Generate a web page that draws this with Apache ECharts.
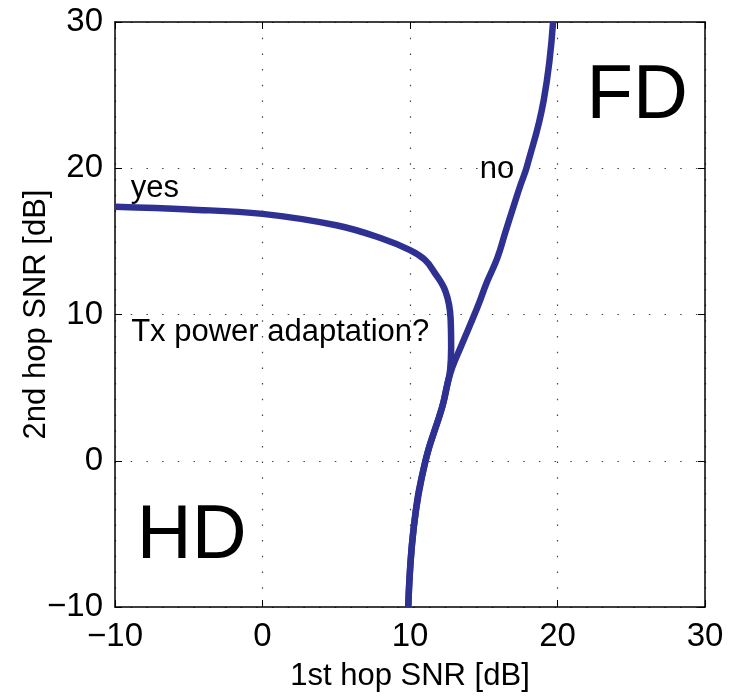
<!DOCTYPE html>
<html>
<head>
<meta charset="utf-8">
<script src="https://cdn.jsdelivr.net/npm/echarts@6/dist/echarts.min.js"></script>
<style>
  html, body { margin: 0; padding: 0; background: #fff; }
  #main { width: 745px; height: 697px; }
</style>
</head>
<body>
<div id="main"></div>
<script>
// curve: [1st hop SNR, 2nd hop SNR]
const yesCurve = [
  [-10, 17.36], [-5, 17.18], [0, 16.88], [5, 16.1], [8, 15.23], [10, 14.4],
  [11, 13.75], [11.62, 12.93], [12.41, 11.57], [12.75, 9.76], [12.79, 7.73],
  [12.72, 6.2], [12.55, 5.3], [12.18, 3.66], [11.05, 0], [10.26, -4.5], [9.88, -10]
];
const noCurve = [
  [19.7, 30], [19.07, 24.68], [17.94, 20.16], [17.49, 18.85], [17.04, 17.45],
  [16.47, 15.64], [15.91, 13.83], [15.23, 12.25], [14.55, 10.44], [13.42, 7.73],
  [12.86, 6.37], [12.55, 5.3], [12.18, 3.66], [11.05, 0], [10.26, -4.5], [9.88, -10]
];
const bigLabels = [
  { name: "FD", value: [25.4, 24.9] },
  { name: "HD", value: [-4.8, -5.2] }
];
const smallLabels = [
  { name: "yes", value: [-7.3, 18.6] },
  { name: "no", value: [15.9, 19.95] },
  { name: "Tx power adaptation?", value: [1.2, 8.75] }
];
const xTicks = [-10, 0, 10, 20, 30];
const yTicks = [-10, 0, 10, 20, 30];

const myChart = echarts.init(document.getElementById("main"));
const font = "Liberation Sans, Arial, Helvetica, sans-serif";
const curveColor = "#2e3192";
const minus = (v) => String(v).replace("-", "\u2212");

const baseAxis = {
  type: "value",
  interval: 10,
  axisLine: { show: true, onZero: false, lineStyle: { color: "#000", width: 1.5 } },
  axisTick: { show: true, inside: true, length: 7, lineStyle: { color: "#000", width: 1 } },
  splitLine: { show: false },
  axisLabel: { show: false }
};

let options = {
  animation: false,
  grid: { left: 115, right: 40, top: 22, bottom: 85 },
  xAxis: [
    {
      ...baseAxis,
      min: xTicks[0],
      max: xTicks[xTicks.length - 1],
      position: "bottom",
      name: "1st hop SNR [dB]",
      nameLocation: "middle",
      nameGap: 54,
      nameMoveOverlap: false,
      nameTextStyle: { fontFamily: font, fontSize: 31, color: "#000" },
      axisLabel: { show: true, margin: 13, fontFamily: font, fontSize: 33, color: "#000", formatter: minus },
      splitLine: { show: true, lineStyle: { color: "#444", width: 1.2, type: [1.5, 14.2] } }
    },
    { ...baseAxis, min: xTicks[0], max: xTicks[xTicks.length - 1], position: "top" }
  ],
  yAxis: [
    {
      ...baseAxis,
      min: yTicks[0],
      max: yTicks[yTicks.length - 1],
      position: "left",
      name: "2nd hop SNR [dB]",
      nameLocation: "middle",
      nameGap: 63,
      nameMoveOverlap: false,
      nameTextStyle: { fontFamily: font, fontSize: 31, color: "#000" },
      axisLabel: { show: true, margin: 12, fontFamily: font, fontSize: 33, color: "#000", formatter: minus },
      splitLine: { show: true, lineStyle: { color: "#444", width: 1.2, type: [1.5, 14.2] } }
    },
    { ...baseAxis, min: yTicks[0], max: yTicks[yTicks.length - 1], position: "right" }
  ],
  series: [
    {
      type: "line",
      name: "no",
      data: noCurve,
      smooth: 0.45,
      showSymbol: false,
      lineStyle: { color: curveColor, width: 6.5 }
    },
    {
      type: "line",
      name: "yes",
      data: yesCurve,
      smooth: 0.4,
      showSymbol: false,
      lineStyle: { color: curveColor, width: 6.5 }
    },
    {
      type: "scatter",
      data: bigLabels,
      symbolSize: 0,
      itemStyle: { opacity: 1 },
      label: { show: true, position: "inside", formatter: "{b}", fontFamily: font, fontSize: 76, color: "#000" }
    },
    {
      type: "scatter",
      data: smallLabels,
      symbolSize: 0,
      itemStyle: { opacity: 1 },
      label: { show: true, position: "inside", formatter: "{b}", fontFamily: font, fontSize: 31, color: "#000" }
    }
  ]
};
myChart.setOption(options);
</script>
</body>
</html>
